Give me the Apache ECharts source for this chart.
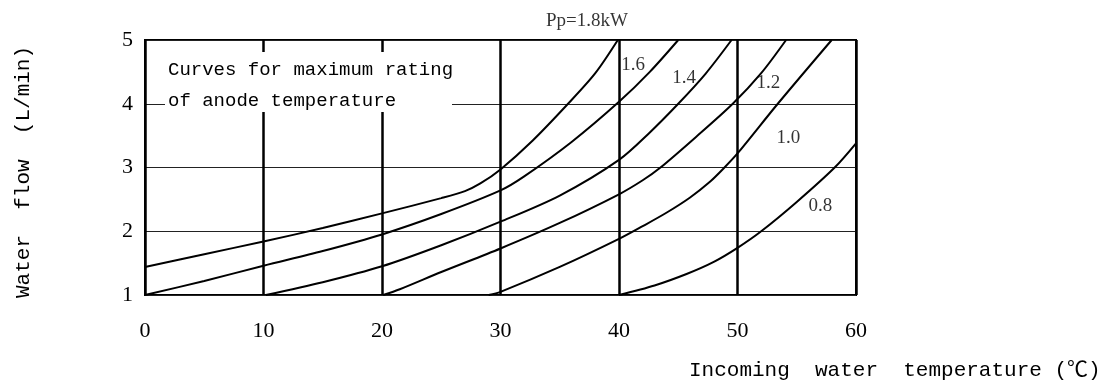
<!DOCTYPE html>
<html>
<head>
<meta charset="utf-8">
<script src="https://cdn.jsdelivr.net/npm/echarts@6/dist/echarts.min.js"></script>
<style>
  html, body { margin: 0; padding: 0; background: #fff; }
  #chart { width: 1100px; height: 383px; }
</style>
</head>
<body>
<div id="chart"></div>
<script>
// Incoming water temperature (°C) vs. required water flow (L/min), one curve per anode power
const powerLevels = ['1.8', '1.6', '1.4', '1.2', '1.0', '0.8'];

const curve18 = [[0,1.44],[5,1.64],[10,1.84],[15,2.05],[20,2.28],[25,2.52],[27,2.63],[28.3,2.75],[30,2.97],[32.7,3.42],[35.7,4.0],[38,4.48],[39.9,5.0]];
const curve16 = [[0,1.0],[5,1.22],[10,1.46],[15,1.69],[20,1.95],[25,2.27],[30,2.64],[32,2.86],[36,3.40],[40,4.03],[42.6,4.50],[45,5.0]];
const curve14 = [[10.2,1.0],[15,1.2],[20,1.45],[25,1.78],[30,2.15],[35,2.56],[40,3.12],[42.6,3.55],[45,4.0],[47.3,4.47],[49.5,5.0]];
const curve12 = [[20.1,1.0],[21.5,1.09],[25,1.36],[30,1.73],[35,2.13],[40,2.58],[42,2.8],[43.5,3.0],[46.5,3.48],[49.6,4.0],[52,4.48],[54.1,5.0]];
const curve10 = [[29,1.0],[30,1.05],[35,1.44],[40,1.88],[42,2.08],[44,2.29],[46,2.53],[47.7,2.78],[48.8,2.98],[50,3.22],[53.4,4.0],[57.95,5.0]];
const curve08 = [[40,1.0],[43,1.15],[45.7,1.33],[48,1.52],[50,1.74],[52,2.0],[55,2.46],[58.2,3.0],[60,3.38]];

const curves = [curve18, curve16, curve14, curve12, curve10, curve08];

// Where each power label sits, in data coordinates [temperature, flow, text]
const curveLabelAnchors = [
  [37.3, 5.30, 'Pp=1.8kW'],
  [41.2, 4.61, '1.6'],
  [45.5, 4.40, '1.4'],
  [52.6, 4.33, '1.2'],
  [54.3, 3.46, '1.0'],
  [57.0, 2.40, '0.8']
];

const xTicks = { min: 0, max: 60, interval: 10 };
const yTicks = { min: 1, max: 5, interval: 1 };

const noteLines = ['Curves for maximum rating', 'of anode temperature'];
const xTitle = 'Incoming  water  temperature (\u2103)';
const yTitle = 'Water  flow  (L/min)';

const chart = echarts.init(document.getElementById('chart'), null, { renderer: 'canvas' });

const monoFont = "'Liberation Mono', 'Noto Sans CJK JP', monospace";
const serifFont = "'Liberation Serif', 'Noto Serif', serif";

const lineSeries = curves.map((pts, i) => ({
  name: powerLevels[i],
  type: 'line',
  data: pts,
  smooth: 0.3,
  symbol: 'none',
  clip: true,
  lineStyle: { color: '#000', width: 2 },
  z: 3
}));

chart.setOption({
  animation: false,
  backgroundColor: '#fff',
  grid: {
    left: 145, top: 40, right: 244, bottom: 88,
    show: true, borderColor: '#000', borderWidth: 2, backgroundColor: 'transparent'
  },
  xAxis: {
    type: 'value',
    min: xTicks.min, max: xTicks.max, interval: xTicks.interval,
    axisLine: { show: false },
    axisTick: { show: false },
    axisLabel: { color: '#000', fontFamily: serifFont, fontSize: 22, margin: 25 },
    splitLine: { show: true, lineStyle: { color: '#000', width: 2.5 } }
  },
  yAxis: {
    type: 'value',
    min: yTicks.min, max: yTicks.max, interval: yTicks.interval,
    axisLine: { show: false },
    axisTick: { show: false },
    axisLabel: { color: '#000', fontFamily: serifFont, fontSize: 22, margin: 12 },
    splitLine: { show: true, lineStyle: { color: '#222', width: 1 } }
  },
  series: lineSeries.concat([{
    name: 'labels',
    type: 'scatter',
    data: curveLabelAnchors,
    symbolSize: 1,
    clip: false,
    silent: true,
    itemStyle: { color: 'rgba(0,0,0,0)' },
    label: {
      show: true,
      position: 'inside',
      formatter: p => p.value[2],
      color: '#000',
      fontFamily: serifFont,
      fontSize: 19
    },
    z: 4
  }]),
  graphic: [
    {
      type: 'rect', z: 10,
      shape: { x: 165, y: 52, width: 287, height: 60 },
      style: { fill: '#fff' }
    },
    {
      type: 'text', z: 11, left: 168, top: 60,
      style: { text: noteLines[0], font: "19px " + monoFont, fill: '#000' }
    },
    {
      type: 'text', z: 11, left: 168, top: 91,
      style: { text: noteLines[1], font: "19px " + monoFont, fill: '#000' }
    },
    {
      type: 'text', z: 11, left: 689, top: 360,
      style: { text: xTitle, font: "21px " + monoFont, fill: '#000' }
    },
    {
      type: 'text', z: 11,
      x: 13, y: 298, rotation: Math.PI / 2,
      style: { text: yTitle, font: "21px " + monoFont, fill: '#000', textAlign: 'left', textVerticalAlign: 'top' }
    }
  ]
});
</script>
</body>
</html>
